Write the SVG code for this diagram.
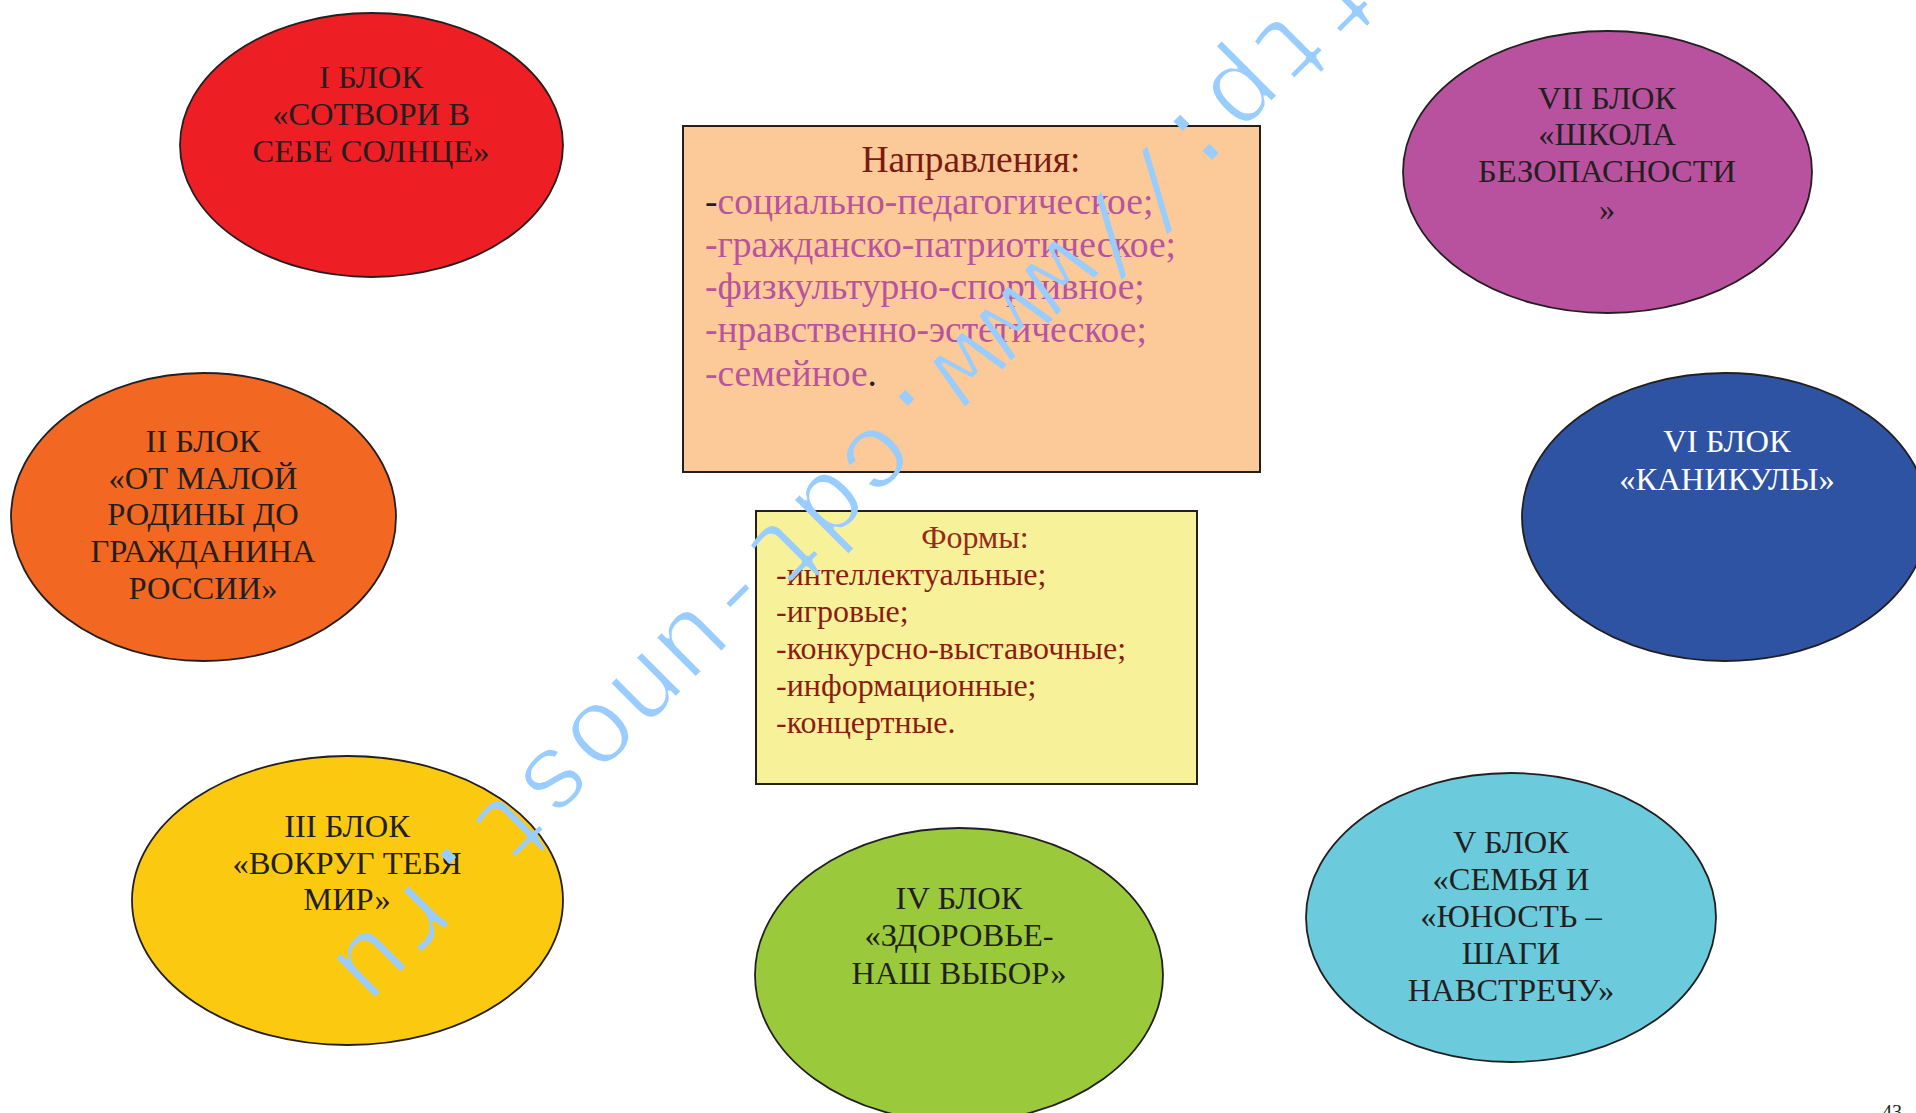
<svg xmlns="http://www.w3.org/2000/svg" width="1916" height="1113" viewBox="0 0 1916 1113">
<style>
.e{stroke:#231F20;stroke-width:1.8}
.t{font-family:"Liberation Serif","Times New Roman",serif;font-size:32.5px;fill:#231F20;text-anchor:middle}
.box{stroke:#231F20;stroke-width:2}
.d{font-family:"Liberation Serif","Times New Roman",serif;font-size:37.5px;fill:#B8539F}
.f{font-family:"Liberation Serif","Times New Roman",serif;font-size:32px;fill:#8A1C14}
.wm{font-family:"Liberation Mono","Courier New",monospace;font-size:108px;fill:#99CCFF}
</style>
<defs>
<filter id="thin" x="-5%" y="-5%" width="110%" height="110%">
<feMorphology operator="erode" radius="1"/>
</filter>
</defs>
<rect width="1916" height="1113" fill="#FFFFFF"/>
<g id="connectors"></g>
<g id="block1">
<ellipse class="e" cx="371.5" cy="145" rx="191.5" ry="132" fill="#ED1E24"/>
<text class="t" x="371" y="88">I БЛОК</text>
<text class="t" x="371" y="125">«СОТВОРИ В</text>
<text class="t" x="371" y="162">СЕБЕ СОЛНЦЕ»</text>
</g>
<g id="block2">
<ellipse class="e" cx="203.5" cy="517" rx="192.5" ry="144" fill="#F26722"/>
<text class="t" x="203" y="452">II БЛОК</text>
<text class="t" x="203" y="489">«ОТ МАЛОЙ</text>
<text class="t" x="203" y="525">РОДИНЫ ДО</text>
<text class="t" x="203" y="562">ГРАЖДАНИНА</text>
<text class="t" x="203" y="599">РОССИИ»</text>
</g>
<g id="block3">
<ellipse class="e" cx="347.5" cy="900.5" rx="215.5" ry="144.5" fill="#FCC911"/>
<text class="t" x="347" y="837">III БЛОК</text>
<text class="t" x="347" y="874">«ВОКРУГ ТЕБЯ</text>
<text class="t" x="347" y="910">МИР»</text>
</g>
<g id="block4">
<ellipse class="e" cx="959" cy="975" rx="204" ry="147" fill="#9ACA3C"/>
<text class="t" x="959" y="909">IV БЛОК</text>
<text class="t" x="959" y="946">«ЗДОРОВЬЕ-</text>
<text class="t" x="959" y="984">НАШ ВЫБОР»</text>
</g>
<g id="block5">
<ellipse class="e" cx="1511" cy="917.5" rx="205" ry="144.5" fill="#6BCBDC"/>
<text class="t" x="1511" y="853">V БЛОК</text>
<text class="t" x="1511" y="890">«СЕМЬЯ И</text>
<text class="t" x="1511" y="927">«ЮНОСТЬ –</text>
<text class="t" x="1511" y="964">ШАГИ</text>
<text class="t" x="1511" y="1001">НАВСТРЕЧУ»</text>
</g>
<g id="block6">
<ellipse class="e" cx="1725" cy="517" rx="203" ry="144" fill="#2E53A3"/>
<text class="t" x="1727" y="452" style="fill:#FFFFFF">VI БЛОК</text>
<text class="t" x="1727" y="490" style="fill:#FFFFFF">«КАНИКУЛЫ»</text>
</g>
<g id="block7">
<ellipse class="e" cx="1607.5" cy="172" rx="204.5" ry="141" fill="#B8529E"/>
<text class="t" x="1607" y="109">VII БЛОК</text>
<text class="t" x="1607" y="145">«ШКОЛА</text>
<text class="t" x="1607" y="182">БЕЗОПАСНОСТИ</text>
<text class="t" x="1607" y="220">»</text>
</g>
<g id="directions">
<rect class="box" x="683" y="126" width="577" height="346" fill="#FCCA98"/>
<text class="d" x="971" y="172" text-anchor="middle" style="fill:#7B1A14">Направления:</text>
<text class="d" x="705" y="214"><tspan fill="#231F20">-</tspan>социально-педагогическое;</text>
<text class="d" x="705" y="257">-гражданско-патриотическое;</text>
<text class="d" x="705" y="299">-физкультурно-спортивное;</text>
<text class="d" x="705" y="342">-нравственно-эстетическое;</text>
<text class="d" x="705" y="386">-семейное<tspan fill="#231F20">.</tspan></text>
</g>
<g id="forms">
<rect class="box" x="756" y="511" width="441" height="273" fill="#F7F29A"/>
<text class="f" x="975" y="548" text-anchor="middle" style="fill:#962A1C">Формы:</text>
<text class="f" x="776" y="585">-интеллектуальные;</text>
<text class="f" x="776" y="622">-игровые;</text>
<text class="f" x="776" y="659">-конкурсно-выставочные;</text>
<text class="f" x="776" y="696">-информационные;</text>
<text class="f" x="776" y="733">-концертные.</text>
</g>
<text x="1882" y="1119" style="font-family:'Liberation Serif',serif;font-size:20px;fill:#231F20">43</text>
<g filter="url(#thin)">
<text class="wm" transform="translate(1382,-89) rotate(135)">http://www.cdt-unost.ru</text>
</g>
</svg>
